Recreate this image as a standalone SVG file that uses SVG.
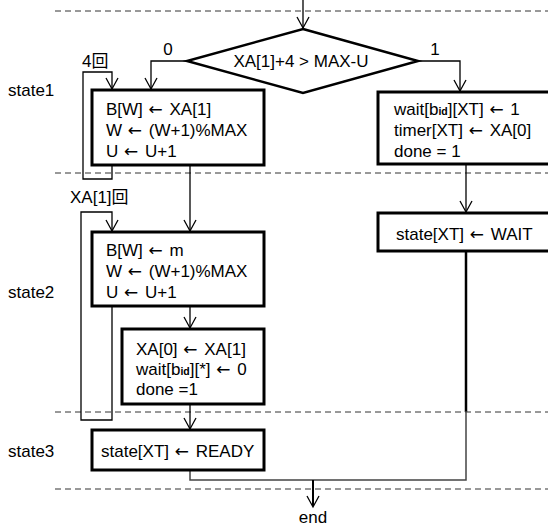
<svg xmlns="http://www.w3.org/2000/svg" width="548" height="528" viewBox="0 0 548 528">
<style>
text{font-family:"Liberation Sans",Arial,"Noto Sans CJK JP",sans-serif;font-size:17px;fill:#000}
.sub{font-size:10.5px;font-weight:bold}
.ar{font-family:"DejaVu Sans",sans-serif;letter-spacing:2px}
.box{fill:#fff;stroke:#000;stroke-width:3}
.dash{stroke:#333;stroke-width:1;stroke-dasharray:6,4;fill:none}
.c{fill:none;stroke:#000;stroke-width:1.3}
.ah{fill:none;stroke:#000;stroke-width:1.3}
</style>
<defs>
<marker id="arr" markerWidth="14" markerHeight="14" refX="12" refY="7" orient="auto" markerUnits="userSpaceOnUse">
<path d="M1,1 L12,7 L1,13" class="ah"/>
</marker>
</defs>
<g id="lanes">
<line class="dash" x1="55" y1="11" x2="548" y2="11"/>
<line class="dash" x1="55" y1="173" x2="548" y2="173"/>
<line class="dash" x1="55" y1="412" x2="548" y2="412"/>
<line class="dash" x1="55" y1="489" x2="548" y2="489"/>
<text x="8" y="96">state1</text>
<text x="8" y="298">state2</text>
<text x="8" y="457">state3</text>
</g>
<g id="connectors">
<path class="c" d="M303,0 V28" marker-end="url(#arr)"/>
<path class="c" d="M187,61 H151 V89" marker-end="url(#arr)"/>
<path class="c" d="M418,61 H460 V91" marker-end="url(#arr)"/>
<path class="c" d="M112,165 V179 H83 V72 H112 V89" marker-end="url(#arr)"/>
<path class="c" d="M190,165 V231" marker-end="url(#arr)"/>
<path class="c" d="M112,306 V420 H81 V212 H112 V231" marker-end="url(#arr)"/>
<path class="c" d="M190,306 V328" marker-end="url(#arr)"/>
<path class="c" d="M190,404 V429" marker-end="url(#arr)"/>
<path class="c" d="M466,164 V212" marker-end="url(#arr)"/>
<path fill="none" stroke="#000" stroke-width="2.5" d="M466,251 V412"/>
<path fill="none" stroke="#444" stroke-width="1.5" d="M466,411 V480 H190 V470"/>
<path fill="none" stroke="#000" stroke-width="2" d="M313,480 V506"/>
<path class="ah" stroke-width="1.5" d="M307,496 L313,507 L319,496"/>
<text x="168" y="55" text-anchor="middle">0</text>
<text x="435" y="55" text-anchor="middle">1</text>
<text x="82" y="67">4回</text>
<text x="70" y="203">XA[1]回</text>
<text x="313" y="523" text-anchor="middle">end</text>
</g>
<g id="decision">
<polygon points="303,29 418,61 303,93 187,61" fill="#fff" stroke="#000" stroke-width="2.5"/>
<text x="301" y="67" text-anchor="middle">XA[1]+4 &gt; MAX-U</text>
</g>
<g id="s1left">
<rect class="box" x="92" y="90" width="172" height="75"/>
<text x="106" y="115">B[W] <tspan class="ar" dx="1">←</tspan> XA[1]</text>
<text x="106" y="136">W <tspan class="ar" dx="1">←</tspan> (W+1)%MAX</text>
<text x="106" y="157">U <tspan class="ar" dx="1">←</tspan> U+1</text>
</g>
<g id="s1right">
<rect class="box" x="378" y="92" width="175" height="72"/>
<text x="394" y="115">wait[b<tspan class="sub">id</tspan>][XT] <tspan class="ar" dx="1">←</tspan> 1</text>
<text x="394" y="136">timer[XT] <tspan class="ar" dx="1">←</tspan> XA[0]</text>
<text x="394" y="157">done = 1</text>
</g>
<g id="s2wait">
<rect class="box" x="378" y="213" width="175" height="38"/>
<text x="396" y="240">state[XT] <tspan class="ar" dx="1">←</tspan> WAIT</text>
</g>
<g id="s2box">
<rect class="box" x="92" y="232" width="172" height="74"/>
<text x="106" y="256">B[W] <tspan class="ar" dx="1">←</tspan> m</text>
<text x="106" y="277">W <tspan class="ar" dx="1">←</tspan> (W+1)%MAX</text>
<text x="106" y="298">U <tspan class="ar" dx="1">←</tspan> U+1</text>
</g>
<g id="s2box2">
<rect class="box" x="122" y="329" width="142" height="75"/>
<text x="136" y="355">XA[0] <tspan class="ar" dx="1">←</tspan> XA[1]</text>
<text x="136" y="375">wait[b<tspan class="sub">id</tspan>][*] <tspan class="ar" dx="1">←</tspan> 0</text>
<text x="136" y="395">done =1</text>
</g>
<g id="s3box">
<rect class="box" x="92" y="430" width="172" height="40"/>
<text x="101" y="457">state[XT] <tspan class="ar" dx="1">←</tspan> READY</text>
</g>
</svg>
